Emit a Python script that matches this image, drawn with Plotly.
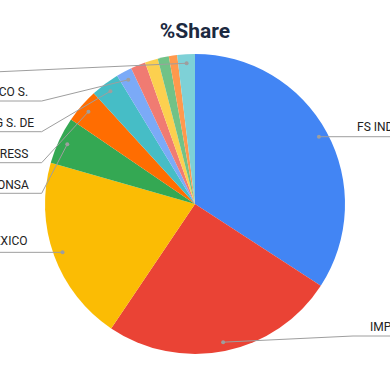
import math
import plotly.graph_objects as go

# ---- data ----
companies = [
    "FS INDUSTRIES",
    "IMPORTACIONES GLOBALES",
    "FEDEX DE MEXICO",
    "GRUPO CONSA",
    "DHL EXPRESS",
    "LOGISTIC TRADING S. DE",
    "COMERCIALIZADORA MARCO S.",
    "TRANSPORTES DEL NORTE",
    "ALMACENES UNIDOS",
    "SERVICIOS ADUANALES",
    "CARGA RAPIDA",
    "PAQUETERIA NACIONAL",
]
share = [34.2, 25.3, 20.0, 5.1, 3.7, 3.1, 1.7, 1.6, 1.4, 1.2, 0.9, 1.9]
colors = ["#4285F4", "#EA4335", "#FBBC04", "#34A853", "#FF6D01", "#46BDC6",
          "#7BAAF7", "#F07B72", "#FCD04F", "#71C287", "#FF994D", "#7ED1D7"]

# ---- layout geometry (pixels) ----
FW, FH = 390, 371
ML, MR, MT, MB = 45, 45, 54, 17
PW, PH = FW - ML - MR, FH - MT - MB
CX, CY = ML + PW / 2, MT + PH / 2
R = min(PW, PH) / 2


def xp(px):
    return (px - ML) / PW


def yp(py):
    return (FH - MB - py) / PH


total = sum(share)
cum = 0
mids = []
for v in share:
    mids.append((cum + v / 2) / total * 2 * math.pi)
    cum += v

# label placement: index -> (elbow list in px, text anchor px, side)
label_layout = {
    0: dict(path=[(420, None)], text=(354.5, 127), side="left"),
    1: dict(path=[(353, 336), (420, 336)], text=(368, 327), side="left"),
    2: dict(path=[(-30, None)], text=(28.5, 241), side="right"),
    3: dict(path=[(41.7, 193.3), (-30, 193.3)], text=(30.5, 185), side="right"),
    4: dict(path=[(41.7, 162.7), (-30, 162.7)], text=(29.5, 154), side="right"),
    5: dict(path=[(41.7, 131.7), (-30, 131.7)], text=(36, 123), side="right"),
    6: dict(path=[(41.7, 101), (-30, 101)], text=(30, 92), side="right"),
    11: dict(path=[(0, 71.7), (-60, 71.7)], text=(-40, 63), side="right"),
}

FONT = "Roboto, Arial"
shapes = []
annotations = []
line_col = "#9e9e9e"
for i, spec in label_layout.items():
    th = mids[i]
    rd = R - 9
    dx, dy = CX + rd * math.sin(th), CY - rd * math.cos(th)
    pts = [(dx, dy)]
    for (ex, ey) in spec["path"]:
        pts.append((ex, dy if ey is None else ey))
    path = "M " + " L ".join(f"{xp(a):.5f},{yp(b):.5f}" for a, b in pts)
    shapes.append(dict(type="path", xref="paper", yref="paper", path=path,
                       line=dict(color=line_col, width=1)))
    shapes.append(dict(type="circle", xref="paper", yref="paper",
                       x0=xp(dx - 2), x1=xp(dx + 2), y0=yp(dy + 2), y1=yp(dy - 2),
                       fillcolor=line_col, line=dict(width=0)))
    tx, ty = spec["text"]
    annotations.append(dict(xref="paper", yref="paper", x=xp(tx), y=yp(ty),
                            text=companies[i], showarrow=False,
                            xanchor=spec["side"], yanchor="middle",
                            font=dict(family=FONT, size=12, color="#222222")))

fig = go.Figure(go.Pie(
    labels=companies, values=share, sort=False, direction="clockwise", rotation=0,
    marker=dict(colors=colors, line=dict(width=0)), textinfo="none",
    hoverinfo="label+percent", showlegend=False,
    domain=dict(x=[0, 1], y=[0, 1]),
))

fig.update_layout(
    width=FW, height=FH,
    margin=dict(l=ML, r=MR, t=MT, b=MB),
    paper_bgcolor="white", plot_bgcolor="white",
    title=dict(text="<b>%Share</b>", x=0.5, xanchor="center",
               yref="container", y=1 - 31 / FH, yanchor="middle",
               font=dict(family=FONT, size=21, color="#1c2940")),
    shapes=shapes, annotations=annotations,
)

fig.write_html("out.html", config={"displayModeBar": False},
               post_script="document.body.style.margin='0';document.body.style.overflow='hidden';")
